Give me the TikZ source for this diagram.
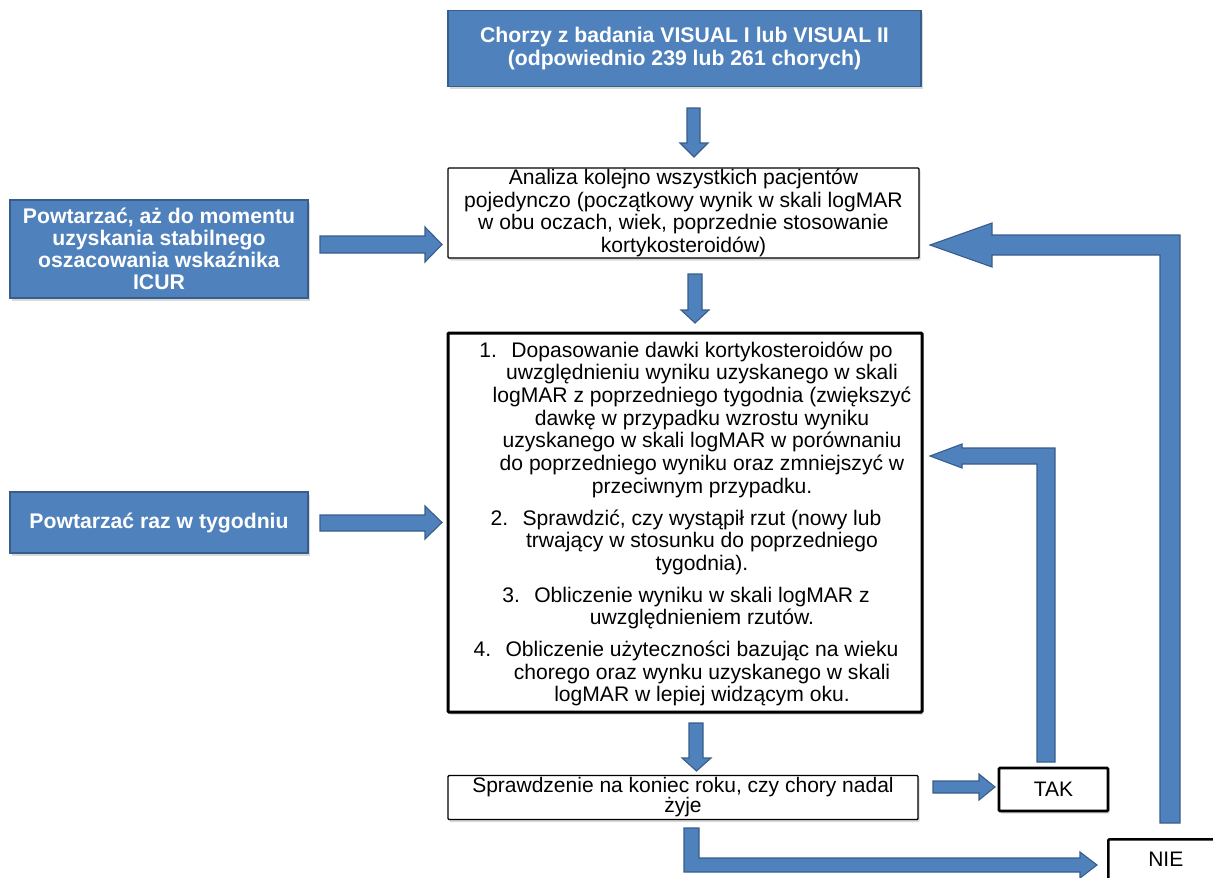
\documentclass[tikz,border=0pt]{standalone}
\usepackage{fontspec}
\setmainfont{Liberation Sans}
\usetikzlibrary{shadows}
\definecolor{pblue}{HTML}{4F81BD}
\definecolor{pborder}{HTML}{385D8A}
\newcommand{\regfont}{\fontsize{21.1}{22.7}\selectfont}
\newcommand{\numit}[1]{\llap{\makebox[32pt][l]{#1}}}
\tikzset{
  softshadow/.style={drop shadow={opacity=0.25, shadow xshift=1.5pt, shadow yshift=-2.5pt, fill=black!60}},
  bluebox/.style={draw=pborder, line width=1.6pt, fill=pblue, text=white, align=center, inner sep=0pt, softshadow},
  whitebox/.style={draw=black, line width=1.4pt, fill=white, align=center, inner sep=0pt, rounded corners=1pt, softshadow},
  blockarrow/.style={draw=pborder, line width=1.1pt, fill=pblue, line join=miter},
}
\begin{document}
\begin{tikzpicture}[x=1pt,y=-1pt]
\useasboundingbox (0,0) rectangle (1213,878);
\clip (0,0) rectangle (1213,878);

% nodes
\node[bluebox, minimum width=473pt, minimum height=76pt, font=\bfseries\fontsize{21.2}{23}\selectfont] (top) at (684.5,48.5)
  {Chorzy z badania VISUAL I lub VISUAL II\\(odpowiednio 239 lub 261 chorych)};

\node[whitebox, minimum width=471pt, minimum height=90pt, font=\regfont] (anal) at (683.5,213)
  {Analiza kolejno wszystkich pacjentów\\pojedynczo (początkowy wynik w skali logMAR\\w obu oczach, wiek, poprzednie stosowanie\\kortykosteroidów)};

\node[bluebox, minimum width=298pt, minimum height=98pt, font=\bfseries\fontsize{21.2}{21.8}\selectfont] (rep1) at (159,249)
  {Powtarzać, aż do momentu\\uzyskania stabilnego\\oszacowania wskaźnika\\ICUR};

\node[whitebox, line width=3pt, minimum width=474pt, minimum height=379pt] (steps) at (685,522.5) {};
\node[font=\regfont, align=center, inner sep=0pt] (list) at (702,524) {%
\numit{1.}Dopasowanie dawki kortykosteroidów po\\
uwzględnieniu wyniku uzyskanego w skali\\
logMAR z poprzedniego tygodnia (zwiększyć\\
dawkę w przypadku wzrostu wyniku\\
uzyskanego w skali logMAR w porównaniu\\
do poprzedniego wyniku oraz zmniejszyć w\\
przeciwnym przypadku.\\[9pt]
\numit{2.}Sprawdzić, czy wystąpił rzut (nowy lub\\
trwający w stosunku do poprzedniego\\
tygodnia).\\[9pt]
\numit{3.}Obliczenie wyniku w skali logMAR z\\
uwzględnieniem rzutów.\\[9pt]
\numit{4.}Obliczenie użyteczności bazując na wieku\\
chorego oraz wynku uzyskanego w skali\\
logMAR w lepiej widzącym oku.};

\node[bluebox, minimum width=298pt, minimum height=61pt, font=\bfseries\fontsize{21.2}{21.8}\selectfont] (rep2) at (159,522.5)
  {Powtarzać raz w tygodniu};

\node[whitebox, minimum width=470pt, minimum height=44pt, font=\fontsize{21}{20}\selectfont] (check) at (683,797.5)
  {Sprawdzenie na koniec roku, czy chory nadal\\żyje};

\node[whitebox, line width=2.6pt, minimum width=109pt, minimum height=43pt, font=\fontsize{21}{22}\selectfont] (tak) at (1053.5,789.5) {TAK};

\node[whitebox, line width=2.6pt, anchor=north west, minimum width=115pt, inner xsep=0pt, inner ysep=5pt, text height=22pt, text depth=25pt, font=\fontsize{21}{22}\selectfont] (nie) at (1107,838) {NIE};

% block arrows (down)
\draw[blockarrow] (687,108) -- (700,108) -- (700,143) -- (708,143) -- (694,157) -- (680,143) -- (687,143) -- cycle;
\draw[blockarrow] (688,274) -- (702,274) -- (702,310) -- (709,310) -- (695,323) -- (681,310) -- (688,310) -- cycle;
\draw[blockarrow] (689,723) -- (703,723) -- (703,758) -- (711,758) -- (696.5,771) -- (682,758) -- (689,758) -- cycle;

% block arrows (right) from left boxes
\draw[blockarrow] (320,236) -- (425,236) -- (425,227) -- (442,244.5) -- (425,262) -- (425,253) -- (320,253) -- cycle;
\draw[blockarrow] (320,515) -- (425,515) -- (425,506) -- (442,522.5) -- (425,539) -- (425,531) -- (320,531) -- cycle;

% check -> TAK
\draw[blockarrow] (933,781) -- (979,781) -- (979,774) -- (995,787) -- (979,800) -- (979,793) -- (933,793) -- cycle;

% check -> NIE (L shape)
\draw[blockarrow] (684,828) -- (699,828) -- (699,858) -- (1080,858) -- (1080,852) -- (1097,865) -- (1080,878) -- (1080,872) -- (684,872) -- cycle;

% TAK -> steps (return)
\draw[blockarrow] (930,456) -- (962,444) -- (962,448) -- (1055,448) -- (1055,762) -- (1037,762) -- (1037,464) -- (962,464) -- (962,468) -- cycle;

% NIE -> anal (return)
\draw[blockarrow] (930,245) -- (992,223) -- (992,235) -- (1180,235) -- (1180,823) -- (1160,823) -- (1160,255) -- (992,255) -- (992,267) -- cycle;
\end{tikzpicture}
\end{document}
